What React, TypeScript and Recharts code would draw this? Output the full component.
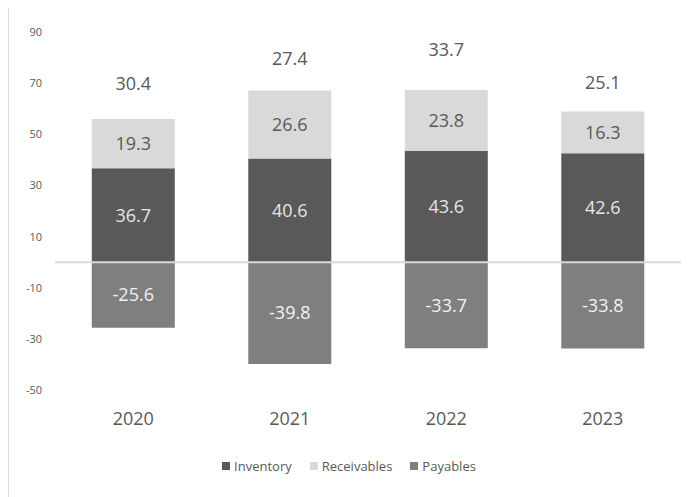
import React from 'react';
import { BarChart, Bar, XAxis, YAxis, ReferenceLine, LabelList, Legend } from 'recharts';

const years = ['2020', '2021', '2022', '2023'];
const inventory = [36.7, 40.6, 43.6, 42.6];
const receivables = [19.3, 26.6, 23.8, 16.3];
const payables = [-25.6, -39.8, -33.7, -33.8];
const totals = [30.4, 27.4, 33.7, 25.1];
const yTicks = [-50, -30, -10, 10, 30, 50, 70, 90];
const legendOrder = ['Inventory', 'Receivables', 'Payables'];

const data = years.map((y, i) => ({
  year: y,
  Inventory: inventory[i],
  Receivables: receivables[i],
  Payables: payables[i],
  Total: totals[i],
}));

const FONT = '"Open Sans", "Segoe UI", sans-serif';
const TEXT = '#595959';
const fmt = (v: any) => Number(v).toFixed(1);

const renderLegend = (props: any) => {
  const items = (props.payload || []).filter((e: any) => legendOrder.includes(e.value));
  items.sort((a: any, b: any) => legendOrder.indexOf(a.value) - legendOrder.indexOf(b.value));
  return (
    <div
      style={{
        display: 'flex',
        justifyContent: 'center',
        alignItems: 'center',
        height: 20,
        fontSize: 13,
        color: TEXT,
        fontFamily: FONT,
      }}
    >
      {items.map((e: any, i: number) => (
        <div
          key={e.value}
          style={{ display: 'flex', alignItems: 'center', marginRight: i < items.length - 1 ? 18 : 0 }}
        >
          <span style={{ width: 8, height: 8, background: e.color, marginRight: 4, display: 'inline-block' }} />
          <span>{e.value}</span>
        </div>
      ))}
    </div>
  );
};

export default function App() {
  return (
    <div
      style={{
        marginTop: -4,
        width: 700,
        height: 500,
        border: '1px solid #d9d9d9',
        background: '#fff',
        fontFamily: FONT,
        overflow: 'hidden',
      }}
    >
      <BarChart
        width={700}
        height={500}
        data={data}
        stackOffset="sign"
        barCategoryGap="23.5%"
        margin={{ top: -24, right: 28, left: 0, bottom: 29 }}
        style={{ fontFamily: FONT }}
      >
        <XAxis
          dataKey="year"
          axisLine={false}
          tickLine={false}
          tickSize={0}
          tickMargin={22}
          height={66}
          tick={{ fill: TEXT, fontSize: 18, fontFamily: FONT }}
        />
        <YAxis
          type="number"
          domain={[-50, 110]}
          ticks={yTicks}
          axisLine={false}
          tickLine={false}
          tickSize={0}
          tickMargin={13}
          width={46}
          tick={{ fill: TEXT, fontSize: 11, fontFamily: FONT }}
        />
        <Legend
          verticalAlign="bottom"
          content={renderLegend}
          wrapperStyle={{ left: 0, width: 680 }}
        />
        <Bar dataKey="Inventory" stackId="a" fill="#595959" isAnimationActive={false}>
          <LabelList dataKey="Inventory" position="center" fill="#e6e6e6" fontSize={18} fontFamily={FONT} formatter={fmt} />
        </Bar>
        <Bar dataKey="Receivables" stackId="a" fill="#d9d9d9" isAnimationActive={false}>
          <LabelList dataKey="Receivables" position="center" fill={TEXT} fontSize={18} fontFamily={FONT} formatter={fmt} />
        </Bar>
        <Bar dataKey="Payables" stackId="a" fill="#7f7f7f" isAnimationActive={false}>
          <LabelList dataKey="Payables" position="center" fill="#f2f2f2" fontSize={18} fontFamily={FONT} formatter={fmt} />
        </Bar>
        <Bar dataKey="Total" stackId="a" fill="transparent" legendType="none" isAnimationActive={false}>
          <LabelList dataKey="Total" position="center" fill={TEXT} fontSize={18} fontFamily={FONT} formatter={fmt} dy={3} />
        </Bar>
        <ReferenceLine y={0} stroke="#d9d9d9" strokeWidth={2} />
      </BarChart>
    </div>
  );
}
